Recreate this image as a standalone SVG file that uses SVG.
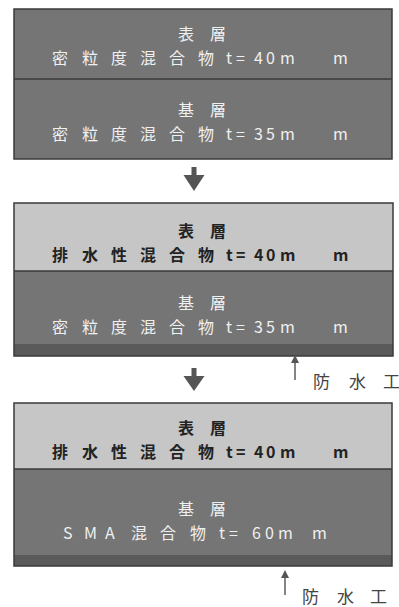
<svg xmlns="http://www.w3.org/2000/svg" width="399" height="607" viewBox="0 0 399 607">
<style>
.dark{fill:#757575}
.light{fill:#c6c6c6}
.band{fill:#5a5a5a}
.edge{fill:none;stroke:#3a3a3a;stroke-width:1.5}
.div{stroke:#3a3a3a;stroke-width:1.5}
text{font-family:"Noto Sans CJK JP","Noto Sans",sans-serif;font-size:16px}
.wt{fill:#f0f0f0}
.bt{fill:#222222;font-weight:bold}
.lbl{fill:#444444;font-size:17px}
.arrow{fill:#555555}
.thin{stroke:#333333;stroke-width:1.2}
</style>
<rect width="399" height="607" fill="#ffffff"/>

<g id="block1">
<rect class="dark" x="14" y="9" width="378" height="150"/>
<rect class="edge" x="14" y="9" width="378" height="150"/>
<line class="div" x1="14" y1="79" x2="392" y2="79"/>
<text class="wt" x="178 210" y="40">表層</text>
<text class="wt" x="52 82 111 140 169 198 226 236 254 266 280 333" y="64">密粒度混合物t=40mm</text>
<text class="wt" x="178 210" y="116">基層</text>
<text class="wt" x="52 82 111 140 169 198 226 236 254 266 280 333" y="140">密粒度混合物t=35mm</text>
</g>

<g id="block2">
<rect class="light" x="14" y="203" width="379" height="68"/>
<rect class="dark" x="14" y="271" width="379" height="73"/>
<rect class="band" x="14" y="344" width="379" height="12"/>
<rect class="edge" x="14" y="203" width="379" height="153"/>
<line class="div" x1="14" y1="271" x2="393" y2="271"/>
<text class="bt" x="178 210" y="237">表層</text>
<text class="bt" x="52 82 111 140 169 198 226 236 254 266 280 333" y="261">排水性混合物t=40mm</text>
<text class="wt" x="178 210" y="309">基層</text>
<text class="wt" x="52 82 111 140 169 198 226 236 254 266 280 333" y="333">密粒度混合物t=35mm</text>
</g>

<g id="block3">
<rect class="light" x="14" y="403" width="378" height="66"/>
<rect class="dark" x="14" y="469" width="378" height="86"/>
<rect class="band" x="14" y="555" width="378" height="11"/>
<rect class="edge" x="14" y="403" width="378" height="163"/>
<line class="div" x1="14" y1="469" x2="392" y2="469"/>
<text class="bt" x="178 210" y="434">表層</text>
<text class="bt" x="52 82 111 140 169 198 226 236 254 266 280 333" y="458">排水性混合物t=40mm</text>
<text class="wt" x="178 210" y="515">基層</text>
<text class="wt" x="63 84 105 131 160 190 219 229 252 265 278 312" y="539">SMA混合物t=60mm</text>
</g>

<g id="label1">
<text class="lbl" x="313 349 383" y="388">防水工</text>
</g>
<g id="label2">
<text class="lbl" x="302 337 370" y="603">防水工</text>
</g>

<g id="connectors">
<path class="arrow" d="M191.5,167 h5 v8 h8 l-10.5,16 l-10.5,-16 h8 z"/>
<path class="arrow" d="M191.5,368 h5 v8 h8 l-10.5,15 l-10.5,-15 h8 z"/>
<line class="thin" x1="295" y1="362" x2="295" y2="380"/>
<path class="arrow" d="M295,355 l4,8 h-8 z"/>
<line class="thin" x1="285" y1="577" x2="285" y2="595"/>
<path class="arrow" d="M285,570 l4,8 h-8 z"/>
</g>
</svg>
